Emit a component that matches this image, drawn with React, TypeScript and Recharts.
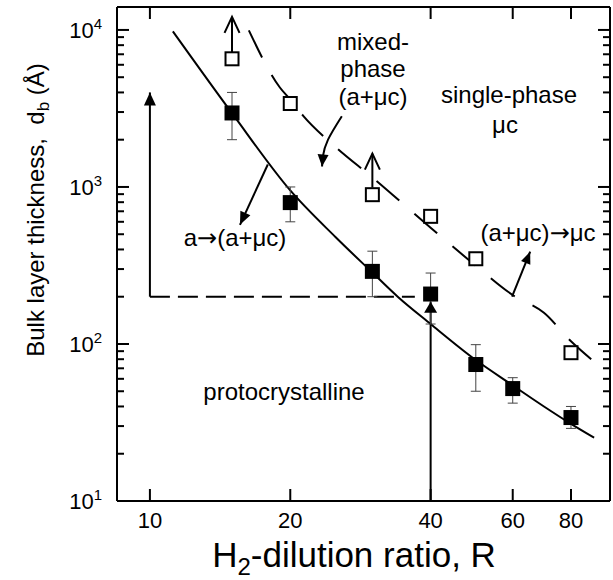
import React from "react";
import { ComposedChart, Line, Scatter, XAxis, YAxis, ErrorBar } from "recharts";

const FONT = '"Liberation Sans", Arial, Helvetica, sans-serif';
const ARROW_FONT = '"DejaVu Sans", sans-serif';

// axis ticks
const ratioTicks = [10, 20, 40, 60, 80];
const thicknessTicks = [
  10, 20, 30, 40, 50, 60, 70, 80, 90,
  100, 200, 300, 400, 500, 600, 700, 800, 900,
  1000, 2000, 3000, 4000, 5000, 6000, 7000, 8000, 9000,
  10000,
];
const thicknessMajor = [10, 100, 1000, 10000];
const thicknessExp = ["1", "2", "3", "4"];

// filled squares: a -> (a+uc) transition, with error bars
const filledR = [15, 20, 30, 40, 50, 60, 80];
const filledD = [2960, 795, 290, 208, 74, 52, 34];
const filledLow = [2000, 600, 200, 134, 50, 42, 29];
const filledHigh = [4000, 1000, 390, 283, 99, 61, 40];

// open squares: (a+uc) -> uc transition
const openR = [15, 20, 30, 40, 50, 80];
const openD = [6550, 3400, 893, 650, 349, 88];

// solid guide line
const solidR = [11.2, 15, 20, 25, 30, 34, 40, 50, 60, 70, 80, 89.7];
const solidD = [9800, 2950, 950, 480, 285, 200, 134, 79, 54.5, 40, 31, 25.3];

// dashed guide line
const dashR = [16.3, 19, 20, 21.3, 25, 30, 40, 50, 60, 70, 80, 88.8];
const dashD = [9930, 4300, 3600, 2850, 1800, 1150, 550, 315, 205, 158, 104, 79];

// dashed boundary of the protocrystalline box
const boxR = [10, 37];
const boxD = [200, 200];

// arrows (start -> tip)
const arrowBoxR = [10, 10];
const arrowBoxD = [200, 4000];
const arrow40R = [40, 40];
const arrow40D = [10, 186];
const up15R = [15, 15];
const up15D = [7200, 12100];
const up30R = [30, 30];
const up30D = [990, 1630];
const slantAR = [17.9, 15.6];
const slantAD = [1390, 574];
const slantBR = [59.8, 65.4];
const slantBD = [200, 387];
const curvedR = [25.8, 24.1, 23.5, 23.4];
const curvedD = [2820, 2000, 1570, 1350];

const pts = (r: number[], d: number[]) => r.map((R, i) => ({ R, d: d[i] }));

const filledData = filledR.map((R, i) => ({
  R,
  d: filledD[i],
  err: [filledD[i] - filledLow[i], filledHigh[i] - filledD[i]],
}));
const openData = pts(openR, openD);

function headDot(n: number, open: boolean, L = 13, W = 6) {
  let prev = { x: 0, y: 0 };
  return (p: any) => {
    const { cx, cy, index } = p;
    const before = p.points && index > 0 ? p.points[index - 1] : prev;
    prev = { x: cx, y: cy };
    if (index !== n - 1) return <g key={`h${index}`} />;
    const a = Math.atan2(cy - before.y, cx - before.x);
    const bx = cx - L * Math.cos(a);
    const by = cy - L * Math.sin(a);
    const px = -Math.sin(a) * W;
    const py = Math.cos(a) * W;
    const pl = `${bx + px},${by + py} ${cx},${cy} ${bx - px},${by - py}`;
    if (open)
      return <polyline key={`h${index}`} points={pl} fill="none" stroke="#000" strokeWidth={2} />;
    return <polygon key={`h${index}`} points={pl} fill="#000" />;
  };
}

const FilledSquare = (p: any) => (
  <rect x={p.cx - 7.5} y={p.cy - 7.5} width={15} height={15} fill="#000" />
);
const OpenSquare = (p: any) => (
  <rect x={p.cx - 6.5} y={p.cy - 6.5} width={13} height={13} fill="#fff" stroke="#000" strokeWidth={2} />
);

const BottomTick = ({ x, y, payload }: any) => (
  <g>
    <line x1={x} x2={x} y1={y} y2={y - 12} stroke="#000" strokeWidth={2} />
    <text x={x} y={y + 27} textAnchor="middle" fontSize={22} fontFamily={FONT} fill="#000">
      {payload.value}
    </text>
  </g>
);
const TopTick = ({ x, y }: any) => (
  <line x1={x} x2={x} y1={y} y2={y + 12} stroke="#000" strokeWidth={2} />
);
const LeftTick = ({ x, y, payload }: any) => {
  const i = thicknessMajor.indexOf(payload.value);
  return (
    <g>
      <line x1={x} x2={x + (i >= 0 ? 12 : 7)} y1={y} y2={y} stroke="#000" strokeWidth={2} />
      {i >= 0 && (
        <text x={x - 15} y={y + 8} textAnchor="end" fontSize={22} fontFamily={FONT} fill="#000">
          10
          <tspan fontSize={15} dy={-9}>
            {thicknessExp[i]}
          </tspan>
        </text>
      )}
    </g>
  );
};
const RightTick = ({ x, y, payload }: any) => {
  const major = thicknessMajor.includes(payload.value);
  return <line x1={x} x2={x - (major ? 12 : 7)} y1={y} y2={y} stroke="#000" strokeWidth={2} />;
};

const axisLine = { stroke: "#000", strokeWidth: 2 };
const X_DOMAIN = [8.5, 97];
const Y_DOMAIN = [10, 14000];

function arrow(r: number[], d: number[], key: string, open = false, L = 13, W = 6) {
  return (
    <Line
      key={key}
      data={pts(r, d)}
      dataKey="d"
      xAxisId="b"
      yAxisId="l"
      type="linear"
      stroke="#000"
      strokeWidth={2}
      dot={headDot(r.length, open, L, W)}
      activeDot={false}
      isAnimationActive={false}
    />
  );
}

const Arrow = () => <tspan fontFamily={ARROW_FONT}>→</tspan>;

export default function App() {
  return (
    <div style={{ position: "absolute", left: 0, top: 0, width: 613, height: 580, background: "#fff" }}>
      <ComposedChart width={613} height={580} margin={{ top: 6, right: 2, bottom: 78, left: 116 }}>
        <XAxis
          xAxisId="b"
          dataKey="R"
          type="number"
          scale="log"
          domain={X_DOMAIN}
          allowDataOverflow
          ticks={ratioTicks}
          interval={0}
          height={1}
          tickSize={0}
          tickMargin={0}
          tickLine={false}
          axisLine={axisLine}
          tick={<BottomTick />}
        />
        <XAxis
          xAxisId="t"
          orientation="top"
          dataKey="R"
          type="number"
          scale="log"
          domain={X_DOMAIN}
          allowDataOverflow
          ticks={ratioTicks}
          interval={0}
          height={1}
          tickSize={0}
          tickMargin={0}
          tickLine={false}
          axisLine={axisLine}
          tick={<TopTick />}
        />
        <YAxis
          yAxisId="l"
          dataKey="d"
          type="number"
          scale="log"
          domain={Y_DOMAIN}
          allowDataOverflow
          ticks={thicknessTicks}
          interval={0}
          width={1}
          tickSize={0}
          tickMargin={0}
          tickLine={false}
          axisLine={axisLine}
          tick={<LeftTick />}
        />
        <YAxis
          yAxisId="r"
          orientation="right"
          dataKey="d"
          type="number"
          scale="log"
          domain={Y_DOMAIN}
          allowDataOverflow
          ticks={thicknessTicks}
          interval={0}
          width={1}
          tickSize={0}
          tickMargin={0}
          tickLine={false}
          axisLine={axisLine}
          tick={<RightTick />}
        />

        <Line
          data={pts(solidR, solidD)}
          dataKey="d"
          xAxisId="b"
          yAxisId="l"
          type="monotone"
          stroke="#000"
          strokeWidth={2}
          dot={false}
          activeDot={false}
          isAnimationActive={false}
        />
        <Line
          data={pts(dashR, dashD)}
          dataKey="d"
          xAxisId="b"
          yAxisId="l"
          type="monotone"
          stroke="#000"
          strokeWidth={2}
          strokeDasharray="30 20"
          dot={false}
          activeDot={false}
          isAnimationActive={false}
        />
        <Line
          data={pts(boxR, boxD)}
          dataKey="d"
          xAxisId="b"
          yAxisId="l"
          type="linear"
          stroke="#000"
          strokeWidth={2}
          strokeDasharray="20 8"
          dot={false}
          activeDot={false}
          isAnimationActive={false}
        />
        {arrow(arrowBoxR, arrowBoxD, "a1", false, 13, 6)}
        {arrow(arrow40R, arrow40D, "a2", false, 11, 6.5)}
        {arrow(up15R, up15D, "a3", true, 16, 7.5)}
        {arrow(up30R, up30D, "a4", true, 16, 7.5)}
        {arrow(slantAR, slantAD, "a5", false, 13, 5.5)}
        {arrow(slantBR, slantBD, "a6", false, 12, 5)}
        <Line
          data={pts(curvedR, curvedD)}
          dataKey="d"
          xAxisId="b"
          yAxisId="l"
          type="natural"
          stroke="#000"
          strokeWidth={2}
          dot={headDot(curvedR.length, false, 12, 5.5)}
          activeDot={false}
          isAnimationActive={false}
        />

        <Scatter data={filledData} xAxisId="b" yAxisId="l" shape={FilledSquare} isAnimationActive={false}>
          <ErrorBar dataKey="err" direction="y" width={5} stroke="#444" strokeWidth={1} isAnimationActive={false} />
        </Scatter>
        <Scatter data={openData} xAxisId="b" yAxisId="l" shape={OpenSquare} isAnimationActive={false} />
      </ComposedChart>

      <svg
        width={613}
        height={580}
        style={{ position: "absolute", left: 0, top: 0, pointerEvents: "none" }}
        fontFamily={FONT}
        fill="#000"
      >
        <g fontSize={24} textAnchor="middle">
          <text x={373} y={50}>mixed-</text>
          <text x={373} y={77}>phase</text>
          <text x={373} y={105}>(a+μc)</text>
          <text x={509} y={103}>single-phase</text>
          <text x={505} y={133}>μc</text>
          <text x={235} y={246}>
            a<Arrow />(a+μc)
          </text>
          <text x={538} y={241}>
            (a+μc)<Arrow />μc
          </text>
          <text x={284} y={400}>protocrystalline</text>
        </g>
        <text x={354} y={567} fontSize={35} textAnchor="middle">
          H<tspan fontSize={24} dy={8}>2</tspan>
          <tspan dy={-8}>-dilution ratio, R</tspan>
        </text>
        <text
          x={44}
          y={210}
          fontSize={24}
          textAnchor="middle"
          transform="rotate(-90 44 210)"
          style={{ whiteSpace: "pre" }}
        >
          {"Bulk layer thickness,  d"}
          <tspan fontSize={17} dy={5}>b</tspan>
          <tspan dy={-5}>{" (Å)"}</tspan>
        </text>
      </svg>
    </div>
  );
}
